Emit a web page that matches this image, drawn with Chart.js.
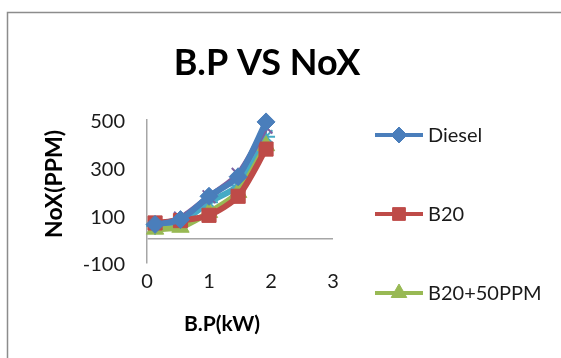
<!DOCTYPE html>
<html>
<head>
<meta charset="utf-8">
<script src="https://cdn.jsdelivr.net/npm/chart.js@4/dist/chart.umd.min.js"></script>
<style>
  html, body { margin: 0; padding: 0; background: #ffffff; }
  #wrap { width: 561px; height: 358px; position: relative; }
</style>
</head>
<body>
<div id="wrap"><canvas id="c" width="561" height="358"></canvas></div>
<script>
// ---- data ----
const chartTitle = "B.P VS NoX";
const xTitle = "B.P(kW)";
const yTitle = "NoX(PPM)";
const bpValues = [0.13, 0.54, 1.0, 1.47, 1.92];
const seriesNames = ["Diesel", "B20", "B20+50PPM", "B20+100PPM", "B20+150PPM"];
const dieselNox = [62, 82, 180, 262, 492];
const b20Nox = [68, 78, 100, 180, 378];
const b20p50Nox = [42, 50, 112, 196, 392];
const b20p100Nox = [60, 88, 178, 272, 470];
const b20p150Nox = [55, 70, 155, 225, 430];
const yTicks = [-100, 100, 300, 500];
const xTicks = [0, 1, 2, 3];

const colors = ["#4A7EBB", "#BE4B48", "#98B954", "#7D60A0", "#46AAC5"];
const styles = ["rectRot", "rect", "triangle", "crossRot", "star"];
const radii = [9, 10, 10, 9, 9];
const allSeries = [dieselNox, b20Nox, b20p50Nox, b20p100Nox, b20p150Nox];

const datasets = allSeries.map((vals, i) => ({
  label: seriesNames[i],
  data: vals.map((v, k) => ({ x: bpValues[k], y: v })),
  borderColor: colors[i],
  backgroundColor: colors[i],
  borderWidth: 6,
  pointStyle: styles[i],
  pointRadius: radii[i],
  pointBorderWidth: (styles[i] === "crossRot" || styles[i] === "star") ? 2 : 1,
  pointBorderColor: colors[i],
  pointBackgroundColor: colors[i],
  showLine: true,
  tension: 0.25,
  clip: false
}));

const FONT = "Lato, 'Open Sans', sans-serif";

const decor = {
  id: "decor",
  beforeDraw(chart) {
    const ctx = chart.ctx;
    ctx.save();
    ctx.fillStyle = "#ffffff";
    ctx.fillRect(0, 0, chart.width, chart.height);
    ctx.strokeStyle = "#8c8c8c";
    ctx.lineWidth = 1.5;
    ctx.strokeRect(7.5, 12.5, 700, 500);
    ctx.restore();
  },
  afterDraw(chart) {
    const ctx = chart.ctx;
    ctx.save();
    ctx.fillStyle = "#000000";
    ctx.textAlign = "center";
    ctx.textBaseline = "middle";
    ctx.font = "bold 36px " + FONT;
    ctx.fillText(chartTitle, 267, 63);
    ctx.font = "bold 21px " + FONT;
    ctx.fillText(xTitle, 222, 324);
    ctx.save();
    ctx.translate(55, 184);
    ctx.rotate(-Math.PI / 2);
    ctx.font = "bold 23px " + FONT;
    ctx.fillText(yTitle, 0, 0);
    ctx.restore();

    // legend (entries beyond the canvas are cut off, as in the reference)
    chart.data.datasets.forEach((ds, i) => {
      const y = 135 + i * 79;
      ctx.strokeStyle = ds.borderColor;
      ctx.lineWidth = 4;
      ctx.beginPath();
      ctx.moveTo(375, y);
      ctx.lineTo(423, y);
      ctx.stroke();
      ctx.fillStyle = ds.backgroundColor;
      ctx.strokeStyle = ds.borderColor;
      ctx.lineWidth = 1;
      Chart.helpers.drawPoint(ctx, { pointStyle: ds.pointStyle, radius: ds.pointRadius - 1, rotation: 0, borderWidth: 1 }, 399, y);
      ctx.fillStyle = "#1a1a1a";
      ctx.textAlign = "left";
      ctx.font = "20px " + FONT;
      ctx.fillText(ds.label, 428, y + 1);
    });
    ctx.restore();
  }
};

new Chart(document.getElementById("c"), {
  type: "scatter",
  data: { datasets },
  plugins: [decor],
  options: {
    responsive: false,
    animation: false,
    devicePixelRatio: 1,
    layout: { padding: { left: 0, top: 120, right: 228, bottom: 0 } },
    plugins: { legend: { display: false }, title: { display: false }, tooltip: { enabled: false } },
    scales: {
      x: {
        type: "linear",
        min: 0, max: 3,
        afterFit(scale) { scale.height = 95; },
        afterBuildTicks(scale) { scale.ticks = xTicks.map(v => ({ value: v })); },
        grid: { display: false, drawTicks: false },
        border: { display: false },
        ticks: { padding: 7, color: "#1a1a1a", font: { family: FONT, size: 20 }, maxRotation: 0 }
      },
      y: {
        type: "linear",
        min: -100, max: 500,
        afterFit(scale) { scale.width = 147; },
        afterBuildTicks(scale) { scale.ticks = [yTicks[0], 0].concat(yTicks.slice(1)).map(v => ({ value: v })); },
        grid: {
          drawTicks: false,
          lineWidth: 1.5,
          color: (c) => (c.tick && c.tick.value === 0) ? "#a6a6a6" : "rgba(0,0,0,0)"
        },
        border: { display: true, color: "#a6a6a6", width: 1.5 },
        ticks: {
          padding: 22,
          labelOffset: 2,
          color: "#1a1a1a",
          font: { family: FONT, size: 20 },
          callback: (v) => v === 0 ? "" : String(v)
        }
      }
    }
  }
});
</script>
</body>
</html>
